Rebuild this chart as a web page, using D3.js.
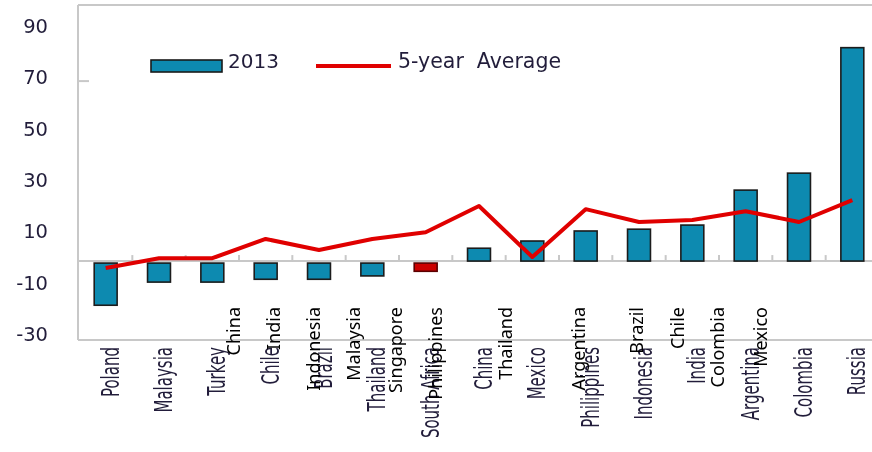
<!DOCTYPE html>
<html>
<head>
<meta charset="utf-8">
<script src="https://cdn.jsdelivr.net/npm/d3@7"></script>
<style>
  body { margin: 0; background: #fff; }
  svg { display: block; }
</style>
</head>
<body>
<div id="chart"></div>
<script>
var width = 872,
    height = 452;

// categories in chart order
var countries = ["Poland", "Malaysia", "Turkey", "Chile", "Brazil", "Thailand", "South Africa",
  "China", "Mexico", "Philippines", "Indonesia", "India", "Argentina", "Colombia", "Russia"];
// 2013 values (bars)
var values2013 = [-16.4, -7.4, -7.4, -6.3, -6.3, -5.0, -3.2, 5.0, 7.8, 11.7, 12.4, 14.0, 27.6, 34.2, 83.0];
// 5-year average (line)
var avg5y = [-2.7, 1.1, 1.1, 8.6, 4.3, 8.6, 11.2, 21.4, 1.6, 20.2, 15.2, 16.0, 19.4, 15.2, 23.7];
var yTicks = [90, 70, 50, 30, 10, -10, -30];
// second set of labels laid over the axis, at fractional category positions
var overlayLabels = ["China", "India", "Indonesia", "Malaysia", "Singapore", "Philippines",
  "Thailand", "Argentina", "Brazil", "Chile", "Colombia", "Mexico"];
var overlayAt = [2.39, 3.14, 3.89, 4.64, 5.43, 6.18, 7.49, 8.86, 9.96, 10.73, 11.48, 12.27];

var barColor = "#0a8ab0",
    negColor = "#cc0000",
    lineColor = "#e00000",
    gridColor = "#c8c8c8",
    textColor = "#221f3a";

var svg = d3.select("#chart").append("svg")
    .attr("width", width)
    .attr("height", height);

svg.append("defs").append("filter")
    .attr("id", "soft")
    .append("feGaussianBlur")
    .attr("stdDeviation", 0.45);

var x = d3.scaleBand()
    .domain(countries)
    .range([79, 879])
    .paddingInner(0.57)
    .paddingOuter(0.285);

var y = d3.scaleLinear()
    .domain([-30.7, 99.6])
    .range([340, 5]);

var step = x.step();
var xPos = d3.scaleLinear().domain([0, 1]).range([79 + step / 2, 79 + step * 1.5]);

var g = svg.append("g").attr("filter", "url(#soft)");

// frame
g.append("line").attr("x1", 78).attr("x2", width).attr("y1", y.range()[1]).attr("y2", y.range()[1])
  .attr("stroke", gridColor).attr("stroke-width", 2);
g.append("line").attr("x1", 78).attr("x2", 78).attr("y1", y.range()[1]).attr("y2", y.range()[0])
  .attr("stroke", gridColor).attr("stroke-width", 2);
g.append("line").attr("x1", 78).attr("x2", width).attr("y1", y.range()[0]).attr("y2", y.range()[0])
  .attr("stroke", gridColor).attr("stroke-width", 2);
g.append("line").attr("x1", 78).attr("x2", 89).attr("y1", y(70)).attr("y2", y(70))
  .attr("stroke", gridColor).attr("stroke-width", 2);

// zero line with category ticks
g.append("line").attr("x1", 78).attr("x2", width).attr("y1", y(0)).attr("y2", y(0))
  .attr("stroke", gridColor).attr("stroke-width", 2);
g.selectAll(".ztick")
  .data(countries.slice(1))
  .enter().append("line")
    .attr("class", "ztick")
    .attr("x1", function(d) { return x(d) - step * x.paddingInner() / 2; })
    .attr("x2", function(d) { return x(d) - step * x.paddingInner() / 2; })
    .attr("y1", y(0))
    .attr("y2", y(0) - 6)
    .attr("stroke", gridColor).attr("stroke-width", 2);

// y labels
g.selectAll(".ylab")
  .data(yTicks)
  .enter().append("text")
    .attr("class", "ylab")
    .attr("x", 48)
    .attr("y", function(d) { return y(d) - 4; })
    .attr("dy", "0.36em")
    .attr("text-anchor", "end")
    .style("font-family", "DejaVu Sans, Verdana, sans-serif")
    .style("font-size", "19.5px")
    .attr("fill", textColor)
    .text(function(d) { return d; });

// bars
g.selectAll(".bar")
  .data(countries)
  .enter().append("rect")
    .attr("class", "bar")
    .attr("x", function(d) { return x(d); })
    .attr("width", x.bandwidth())
    .attr("y", function(d, i) { return values2013[i] >= 0 ? y(values2013[i]) : y(0) + 2; })
    .attr("height", function(d, i) { return Math.abs(y(values2013[i]) - y(0)); })
    .attr("fill", function(d) { return d === "South Africa" ? negColor : barColor; })
    .attr("stroke", function(d) { return d === "South Africa" ? "#5a0000" : "#1b1b1b"; })
    .attr("stroke-width", 1.6);

// 5-year average line
var line = d3.line()
    .x(function(d, i) { return x(countries[i]) + x.bandwidth() / 2; })
    .y(function(d) { return y(d); });

g.append("path")
  .datum(avg5y)
  .attr("d", line)
  .attr("fill", "none")
  .attr("stroke", lineColor)
  .attr("stroke-width", 4)
  .attr("stroke-linejoin", "round");

// legend
g.append("rect")
  .attr("x", 151).attr("y", 60).attr("width", 71).attr("height", 12)
  .attr("fill", barColor).attr("stroke", "#1b1b1b").attr("stroke-width", 1.6);
g.append("text")
  .attr("x", 228).attr("y", 61).attr("dy", "0.36em")
  .style("font-family", "DejaVu Sans, Verdana, sans-serif")
  .style("font-size", "20px")
  .attr("fill", textColor)
  .text("2013");
g.append("line")
  .attr("x1", 316).attr("x2", 391).attr("y1", 66).attr("y2", 66)
  .attr("stroke", lineColor).attr("stroke-width", 4);
g.append("text")
  .attr("x", 398).attr("y", 61).attr("dy", "0.36em")
  .style("font-family", "DejaVu Sans, Verdana, sans-serif")
  .style("font-size", "20.5px")
  .style("white-space", "pre")
  .attr("xml:space", "preserve")
  .attr("fill", textColor)
  .text("5-year  Average");

// rotated category labels (condensed, as in the scan)
g.selectAll(".xlab")
  .data(countries)
  .enter().append("text")
    .attr("class", "xlab")
    .attr("transform", function(d) {
      return "translate(" + (x(d) + x.bandwidth() / 2 + 4) + ",347) rotate(-90) scale(0.6,1)";
    })
    .attr("dy", "0.36em")
    .attr("text-anchor", "end")
    .style("font-family", "DejaVu Sans, Verdana, sans-serif")
    .style("font-size", "25px")
    .attr("fill", textColor)
    .text(function(d) { return d; });

// crisp overlay labels
svg.selectAll(".olab")
  .data(overlayLabels)
  .enter().append("text")
    .attr("class", "olab")
    .attr("transform", function(d, i) {
      return "translate(" + xPos(overlayAt[i]) + ",307) rotate(-90)";
    })
    .attr("dy", "0.36em")
    .attr("text-anchor", "end")
    .style("font-family", "Noto Sans, sans-serif")
    .style("font-size", "18px")
    .attr("fill", "#000")
    .text(function(d) { return d; });
</script>
</body>
</html>
